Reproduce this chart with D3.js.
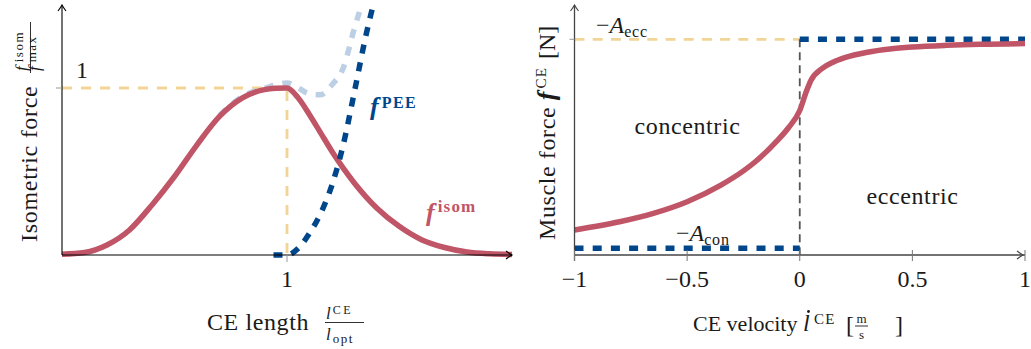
<!DOCTYPE html>
<html>
<head>
<meta charset="utf-8">
<script src="https://cdn.jsdelivr.net/npm/d3@7"></script>
<style>
  body { margin: 0; background: #fff; }
  svg text { font-family: "Liberation Serif", "Times New Roman", serif; fill: #1a1a1a; }
</style>
</head>
<body>
<svg id="chart" width="1031" height="349"></svg>
<script>
// ---- Force-length relation (normalised CE length) ----
const lengthGrid = [0, 0.1, 0.2, 0.3, 0.4, 0.5, 0.6, 0.7, 0.8, 0.9, 0.95, 1.0, 1.05, 1.1, 1.15, 1.2, 1.25, 1.3, 1.35, 1.4, 1.5, 1.6, 1.7, 1.8, 1.9, 2.0];
const isomForce  = [0.005, 0.015, 0.06, 0.15, 0.30, 0.47, 0.66, 0.83, 0.94, 0.99, 0.998, 1.0, 0.94, 0.84, 0.73, 0.62, 0.52, 0.43, 0.35, 0.28, 0.17, 0.09, 0.045, 0.018, 0.007, 0.003];

// parallel elastic element
const peeLength = [0.94, 1.0, 1.05, 1.1, 1.15, 1.2, 1.25, 1.3, 1.35, 1.38];
const peeForce  = [0.0, 0.0, 0.04, 0.13, 0.25, 0.42, 0.66, 0.98, 1.31, 1.48];

// total passive + active force
const totalLength = [0.7, 0.8, 0.9, 1.0, 1.05, 1.1, 1.15, 1.2, 1.25, 1.3, 1.33];
const totalForce  = [0.835, 0.948, 0.998, 1.03, 1.0, 0.965, 0.96, 1.02, 1.12, 1.36, 1.49];

const lengthTicks = [1];
const isomTicks = [1];

// ---- Force-velocity relation ----
const velocityGrid = [-1, -0.8, -0.65, -0.5, -0.35, -0.25, -0.2, -0.1, -0.05, 0, 0.03, 0.05, 0.1, 0.15, 0.2, 0.3, 0.4, 0.5, 0.65, 0.8, 1.0];
const muscleForce  = [0.116, 0.154, 0.193, 0.247, 0.324, 0.39, 0.43, 0.53, 0.59, 0.67, 0.76, 0.81, 0.865, 0.895, 0.915, 0.94, 0.955, 0.964, 0.972, 0.977, 0.98];

const asymptoteEcc = 1.0;    // -A_ecc
const asymptoteCon = 0.031;  // -A_con
const velocityTicks = [-1, -0.5, 0, 0.5, 1];
const velocityTickLabels = ["\u22121", "\u22120.5", "0", "0.5", "1"];

// ---- styling ----
const RED = "#bf5566", BLUE = "#00468b", LIGHTBLUE = "#bdcfe4", YELLOW = "#f1d597";

const svg = d3.select("#chart");

function arrowHead(g, x, y, angle, color) {
  g.append("path")
    .attr("d", "M-6,-4 Q-2,-1 0,0 Q-2,1 -6,4")
    .attr("transform", `translate(${x},${y}) rotate(${angle})`)
    .attr("fill", "none").attr("stroke", color).attr("stroke-width", 1.1);
}

// ================= Left panel =================
{
  const x = d3.scaleLinear().domain([0, 2]).range([62, 512]);
  const y = d3.scaleLinear().domain([0, 1]).range([255, 88]);
  const g = svg.append("g");
  const line = d3.line().x(d => x(d[0])).y(d => y(d[1])).curve(d3.curveMonotoneX);

  // guides at the optimum
  g.append("path")
    .attr("d", `M${x(0)},${y(1)} H${x(1)} V${y(0)}`)
    .attr("fill", "none").attr("stroke", YELLOW).attr("stroke-width", 2.8)
    .attr("stroke-dasharray", "10 9");

  // total force (light blue, dashed)
  g.append("path")
    .datum(d3.zip(totalLength, totalForce))
    .attr("d", line)
    .attr("fill", "none").attr("stroke", LIGHTBLUE).attr("stroke-width", 5.5)
    .attr("stroke-dasharray", "9 9");

  // isometric force
  g.append("path")
    .datum(d3.zip(lengthGrid, isomForce))
    .attr("d", line)
    .attr("fill", "none").attr("stroke", RED).attr("stroke-width", 5.5)
    .attr("stroke-linejoin", "round");

  // PEE force
  g.append("path")
    .datum(d3.zip(peeLength, peeForce))
    .attr("d", line)
    .attr("fill", "none").attr("stroke", BLUE).attr("stroke-width", 5.5)
    .attr("stroke-dasharray", "9 9");

  // axes
  g.append("line").attr("x1", x(0)).attr("x2", x(2)).attr("y1", y(0)).attr("y2", y(0))
    .attr("stroke", "#000").attr("stroke-width", 1.1);
  arrowHead(g, x(2), y(0), 0, "#000");
  g.append("line").attr("x1", x(0)).attr("x2", x(0)).attr("y1", y(0)).attr("y2", 5)
    .attr("stroke", "#000").attr("stroke-width", 1.1);
  arrowHead(g, x(0), 5, -90, "#000");

  // ticks
  g.selectAll(".xt").data(lengthTicks).join("line")
    .attr("x1", d => x(d)).attr("x2", d => x(d)).attr("y1", y(0)).attr("y2", y(0) + 7)
    .attr("stroke", "#999").attr("stroke-width", 1);
  g.selectAll(".xtl").data(lengthTicks).join("text")
    .attr("x", d => x(d)).attr("y", 287).attr("text-anchor", "middle")
    .attr("font-size", 24).text(d => d);
  g.selectAll(".yt").data(isomTicks).join("line")
    .attr("x1", x(0) - 6).attr("x2", x(0)).attr("y1", d => y(d)).attr("y2", d => y(d))
    .attr("stroke", "#999").attr("stroke-width", 1);
  g.selectAll(".ytl").data(isomTicks).join("text")
    .attr("x", 82).attr("y", d => y(d) - 10).attr("text-anchor", "middle")
    .attr("font-size", 24).text(d => d);

  // curve labels
  const tp = g.append("text").attr("x", 370).attr("y", 115).style("fill", BLUE);
  tp.append("tspan").attr("font-size", 26).attr("font-weight", "bold").attr("font-style", "italic").text("f");
  tp.append("tspan").attr("font-size", 16).attr("font-weight", "bold").attr("dx", 3).attr("dy", -7)
    .attr("letter-spacing", 1.5).text("PEE");

  const ti = g.append("text").attr("x", 426).attr("y", 221).style("fill", RED);
  ti.append("tspan").attr("font-size", 26).attr("font-weight", "bold").attr("font-style", "italic").text("f");
  ti.append("tspan").attr("font-size", 17).attr("font-weight", "bold").attr("dx", 3).attr("dy", -9)
    .attr("letter-spacing", 1.2).text("isom");

  // x axis label
  g.append("text").attr("x", 207).attr("y", 330).attr("font-size", 24).attr("letter-spacing", 0.6).text("CE length");
  g.append("line").attr("x1", 325).attr("x2", 364).attr("y1", 322.5).attr("y2", 322.5)
    .attr("stroke", "#1a1a1a").attr("stroke-width", 0.9);
  const xn = g.append("text").attr("x", 326).attr("y", 319);
  xn.append("tspan").attr("font-size", 17).attr("font-style", "italic").text("l");
  xn.append("tspan").attr("font-size", 12).attr("dx", 2).attr("dy", -5).attr("letter-spacing", 2.5).text("CE");
  const xd = g.append("text").attr("x", 326).attr("y", 340);
  xd.append("tspan").attr("font-size", 17).attr("font-style", "italic").text("l");
  xd.append("tspan").attr("font-size", 13).attr("dx", 2).attr("dy", 3).attr("letter-spacing", 1.5).text("opt");

  // y axis label (rotated)
  const yl = g.append("g").attr("transform", "translate(37,242) rotate(-90)");
  yl.append("text").attr("x", 0).attr("y", 0).attr("font-size", 24).attr("letter-spacing", 0.7).text("Isometric force");
  yl.append("line").attr("x1", 169).attr("x2", 220).attr("y1", -6.5).attr("y2", -6.5)
    .attr("stroke", "#1a1a1a").attr("stroke-width", 0.9);
  const yn = yl.append("text").attr("x", 171).attr("y", -10.5);
  yn.append("tspan").attr("font-size", 17).attr("font-style", "italic").text("f");
  yn.append("tspan").attr("font-size", 13).attr("dx", 4).attr("dy", -4).attr("letter-spacing", 1.5).text("isom");
  const yd = yl.append("text").attr("x", 171).attr("y", 3);
  yd.append("tspan").attr("font-size", 17).attr("font-style", "italic").text("f");
  yd.append("tspan").attr("font-size", 13).attr("dx", 4).attr("dy", -4).attr("letter-spacing", 1.5).text("max");
}

// ================= Right panel =================
{
  const x = d3.scaleLinear().domain([-1, 1]).range([574.5, 1025]);
  const y = d3.scaleLinear().domain([0, 1]).range([255, 39.3]);
  const g = svg.append("g");
  const line = d3.line().x(d => x(d[0])).y(d => y(d[1])).curve(d3.curveMonotoneX);
  const AXIS = "#444";

  // eccentric asymptote guide
  g.append("line").attr("x1", x(-1)).attr("x2", x(0)).attr("y1", y(asymptoteEcc)).attr("y2", y(asymptoteEcc))
    .attr("stroke", YELLOW).attr("stroke-width", 2.8).attr("stroke-dasharray", "10 8.2");

  // zero-velocity divider
  g.append("line").attr("x1", x(0)).attr("x2", x(0)).attr("y1", y(asymptoteEcc)).attr("y2", y(0))
    .attr("stroke", "#555").attr("stroke-width", 1.8).attr("stroke-dasharray", "8 5");

  // asymptotes
  g.append("line").attr("x1", x(-1)).attr("x2", x(0)).attr("y1", y(asymptoteCon)).attr("y2", y(asymptoteCon))
    .attr("stroke", BLUE).attr("stroke-width", 5.5).attr("stroke-dasharray", "9 9.2");
  g.append("line").attr("x1", x(0)).attr("x2", x(1)).attr("y1", y(asymptoteEcc)).attr("y2", y(asymptoteEcc))
    .attr("stroke", BLUE).attr("stroke-width", 5.5).attr("stroke-dasharray", "9 9.2");

  // force-velocity curve
  g.append("path")
    .datum(d3.zip(velocityGrid, muscleForce))
    .attr("d", line)
    .attr("fill", "none").attr("stroke", RED).attr("stroke-width", 5.5);

  // axes
  g.append("line").attr("x1", x(-1)).attr("x2", x(1)).attr("y1", y(0)).attr("y2", y(0))
    .attr("stroke", AXIS).attr("stroke-width", 1.3);
  arrowHead(g, x(1) - 2, y(0), 0, AXIS);
  g.append("line").attr("x1", x(-1)).attr("x2", x(-1)).attr("y1", y(0) + 6).attr("y2", 5)
    .attr("stroke", AXIS).attr("stroke-width", 1.3);
  arrowHead(g, x(-1), 5, -90, AXIS);

  g.selectAll(".vt").data(velocityTicks).join("line")
    .attr("x1", d => x(d)).attr("x2", d => x(d)).attr("y1", y(0) - 5).attr("y2", y(0) + 6)
    .attr("stroke", "#777").attr("stroke-width", 1);
  g.selectAll(".vtl").data(velocityTicks).join("text")
    .attr("x", d => x(d)).attr("y", 287).attr("text-anchor", "middle")
    .attr("font-size", 24).text((d, i) => velocityTickLabels[i]);
  g.append("line").attr("x1", x(-1) - 5).attr("x2", x(-1)).attr("y1", y(asymptoteEcc)).attr("y2", y(asymptoteEcc))
    .attr("stroke", "#999").attr("stroke-width", 1);

  // asymptote labels
  const ae = g.append("text").attr("x", 596).attr("y", 33);
  ae.append("tspan").attr("font-size", 24).text("\u2212");
  ae.append("tspan").attr("font-size", 24).attr("font-style", "italic").text("A");
  ae.append("tspan").attr("font-size", 16).attr("dy", 4).attr("letter-spacing", 0.8).text("ecc");
  const ac = g.append("text").attr("x", 676).attr("y", 241);
  ac.append("tspan").attr("font-size", 24).text("\u2212");
  ac.append("tspan").attr("font-size", 24).attr("font-style", "italic").text("A");
  ac.append("tspan").attr("font-size", 16).attr("dy", 4).attr("letter-spacing", 0.8).text("con");

  // regions
  g.append("text").attr("x", 687.5).attr("y", 134).attr("text-anchor", "middle")
    .attr("font-size", 24).attr("letter-spacing", 0.6).text("concentric");
  g.append("text").attr("x", 912.5).attr("y", 204).attr("text-anchor", "middle")
    .attr("font-size", 24).attr("letter-spacing", 0.6).text("eccentric");

  // x axis label: "CE velocity", dotted l with superscript, unit fraction in brackets
  g.append("text").attr("x", 693).attr("y", 331).attr("font-size", 22).text("CE velocity");
  g.append("text").attr("x", 803).attr("y", 331).attr("font-size", 24).attr("font-style", "italic").text("l");
  g.append("circle").attr("cx", 808.5).attr("cy", 311.5).attr("r", 1.4).attr("fill", "#1a1a1a");
  g.append("text").attr("x", 814).attr("y", 324).attr("font-size", 15).attr("letter-spacing", 1.2).text("CE");
  g.append("text").attr("x", 846).attr("y", 333).attr("font-size", 24).text("[");
  g.append("line").attr("x1", 855).attr("x2", 868).attr("y1", 326).attr("y2", 326)
    .attr("stroke", "#1a1a1a").attr("stroke-width", 0.9);
  g.append("text").attr("x", 861.5).attr("y", 322.5).attr("text-anchor", "middle").attr("font-size", 13).text("m");
  g.append("text").attr("x", 861.5).attr("y", 338.5).attr("text-anchor", "middle").attr("font-size", 13).text("s");
  g.append("text").attr("x", 895).attr("y", 333).attr("font-size", 24).text("]");

  // y axis label (rotated)
  const yl = g.append("g").attr("transform", "translate(555,240) rotate(-90)");
  const t = yl.append("text").attr("x", 0).attr("y", 0).attr("font-size", 24);
  t.append("tspan").attr("letter-spacing", 0.6).text("Muscle force ");
  t.append("tspan").attr("font-weight", "bold").attr("font-style", "italic").attr("font-size", 26).text("f");
  t.append("tspan").attr("font-size", 15).attr("dx", 3).attr("dy", -9).attr("letter-spacing", 1.2).text("CE");
  t.append("tspan").attr("dx", 8).attr("dy", 9).text("[N]");
}
</script>
</body>
</html>
